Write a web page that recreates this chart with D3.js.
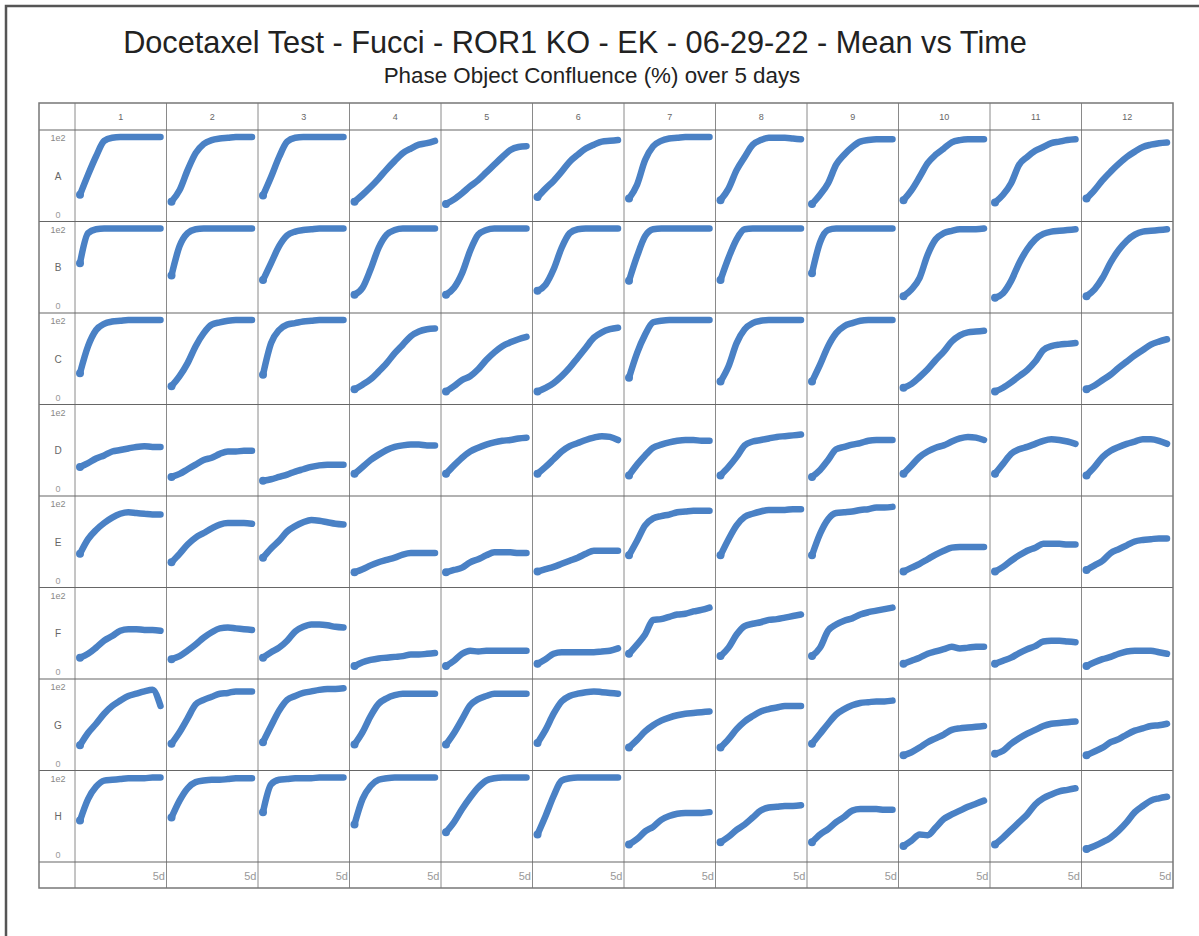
<!DOCTYPE html>
<html>
<head>
<meta charset="utf-8">
<script src="https://cdn.jsdelivr.net/npm/d3@7"></script>
<style>
  body { margin: 0; background: #fff; }
  svg { display: block; font-family: "Liberation Sans", Arial, sans-serif; }
</style>
</head>
<body>
<div id="plot"></div>
<script>
// time points (days) and plate layout
const times = [0, 0.5, 1, 1.5, 2, 2.5, 3, 3.5, 4, 4.5, 5];
const columns = ["1", "2", "3", "4", "5", "6", "7", "8", "9", "10", "11", "12"];
const rowLetters = ["A", "B", "C", "D", "E", "F", "G", "H"];

// phase object confluence (%) per well
const rowA = [
  [25, 51, 75, 95, 99, 100, 100, 100, 100, 100, 100],
  [16, 31, 57, 79, 91, 96, 98, 99, 100, 100, 100],
  [24, 48, 74, 94, 99, 100, 100, 100, 100, 100, 100],
  [16, 25, 35, 46, 58, 69, 79, 85, 90, 92, 95],
  [13, 19, 27, 36, 44, 54, 64, 74, 83, 87, 88],
  [22, 33, 43, 55, 68, 77, 85, 90, 94, 95, 96],
  [20, 38, 70, 88, 95, 98, 99, 100, 100, 100, 100],
  [18, 33, 57, 74, 90, 96, 99, 99, 99, 98, 97],
  [13, 25, 40, 64, 77, 87, 94, 96, 97, 97, 97],
  [18, 31, 48, 66, 77, 85, 93, 96, 97, 97, 97],
  [15, 25, 40, 64, 74, 82, 87, 92, 94, 96, 97],
  [20, 31, 44, 55, 65, 74, 81, 87, 90, 92, 93]
];
const rowB = [
  [55, 94, 99, 100, 100, 100, 100, 100, 100, 100, 100],
  [39, 77, 94, 99, 100, 100, 100, 100, 100, 100, 100],
  [33, 55, 77, 91, 96, 98, 99, 100, 100, 100, 100],
  [14, 23, 47, 75, 92, 98, 100, 100, 100, 100, 100],
  [14, 23, 42, 71, 92, 98, 100, 100, 100, 100, 100],
  [19, 27, 47, 75, 94, 99, 100, 100, 100, 100, 100],
  [32, 64, 90, 99, 100, 100, 100, 100, 100, 100, 100],
  [33, 62, 86, 99, 100, 100, 100, 100, 100, 100, 100],
  [42, 82, 98, 100, 100, 100, 100, 100, 100, 100, 100],
  [12, 21, 36, 66, 86, 94, 97, 99, 99, 99, 100],
  [10, 16, 32, 55, 73, 86, 93, 96, 97, 98, 99],
  [12, 21, 36, 56, 72, 84, 92, 96, 97, 98, 99]
];
const rowC = [
  [31, 66, 87, 95, 98, 99, 100, 100, 100, 100, 100],
  [14, 27, 44, 66, 83, 94, 97, 99, 100, 100, 100],
  [29, 70, 87, 94, 96, 98, 99, 100, 100, 100, 100],
  [10, 16, 23, 33, 44, 57, 68, 79, 85, 88, 89],
  [7, 14, 22, 27, 36, 48, 58, 66, 71, 75, 78],
  [7, 12, 18, 27, 38, 51, 64, 77, 84, 88, 90],
  [25, 57, 81, 97, 99, 100, 100, 100, 100, 100, 100],
  [20, 40, 70, 88, 96, 99, 100, 100, 100, 100, 100],
  [20, 42, 66, 83, 92, 96, 99, 100, 100, 100, 100],
  [12, 17, 26, 36, 48, 59, 72, 80, 84, 85, 86],
  [7, 12, 19, 27, 35, 46, 61, 66, 68, 69, 70],
  [10, 15, 22, 29, 38, 46, 54, 61, 68, 72, 75]
];
const rowD = [
  [28, 33, 39, 43, 48, 50, 52, 54, 55, 54, 54],
  [15, 19, 25, 31, 37, 40, 45, 48, 48, 49, 49],
  [10, 12, 15, 18, 22, 25, 28, 30, 31, 31, 31],
  [19, 28, 37, 44, 50, 54, 56, 57, 57, 56, 56],
  [19, 30, 40, 48, 53, 57, 60, 62, 63, 65, 66],
  [19, 28, 38, 48, 55, 59, 63, 66, 68, 67, 63],
  [17, 31, 43, 53, 57, 60, 62, 63, 63, 62, 62],
  [17, 28, 41, 56, 61, 63, 65, 67, 68, 69, 70],
  [15, 24, 37, 51, 54, 57, 59, 62, 63, 63, 63],
  [19, 30, 41, 48, 53, 56, 61, 65, 67, 66, 63],
  [19, 32, 45, 51, 54, 58, 62, 64, 63, 61, 58],
  [17, 28, 41, 49, 54, 58, 61, 64, 64, 62, 58]
];
const rowE = [
  [34, 53, 65, 74, 81, 86, 88, 87, 86, 85, 85],
  [23, 34, 46, 55, 61, 67, 72, 74, 74, 74, 73],
  [29, 41, 51, 63, 70, 75, 78, 77, 75, 73, 72],
  [10, 14, 19, 23, 26, 29, 33, 35, 35, 35, 35],
  [10, 13, 16, 23, 27, 32, 36, 36, 36, 35, 35],
  [11, 14, 17, 21, 25, 29, 34, 38, 38, 38, 38],
  [32, 51, 71, 80, 83, 85, 88, 89, 90, 90, 90],
  [32, 53, 71, 82, 86, 89, 91, 91, 91, 92, 92],
  [32, 60, 79, 87, 88, 89, 91, 92, 94, 94, 95],
  [11, 16, 21, 27, 33, 38, 42, 43, 43, 43, 43],
  [11, 17, 25, 32, 38, 42, 47, 47, 47, 46, 46],
  [13, 19, 25, 35, 40, 45, 50, 52, 53, 54, 54]
];
const rowF = [
  [18, 23, 31, 40, 46, 53, 55, 55, 54, 54, 53],
  [16, 20, 27, 35, 44, 51, 56, 57, 56, 55, 54],
  [18, 25, 31, 40, 52, 58, 61, 61, 60, 58, 57],
  [7, 12, 15, 17, 18, 19, 20, 22, 22, 23, 24],
  [7, 14, 23, 27, 26, 27, 27, 27, 27, 27, 27],
  [10, 16, 23, 25, 25, 25, 25, 25, 26, 27, 30],
  [23, 35, 48, 67, 68, 71, 74, 75, 78, 80, 83],
  [20, 31, 48, 59, 62, 64, 67, 68, 70, 72, 74],
  [20, 31, 53, 61, 66, 69, 74, 77, 79, 81, 83],
  [10, 14, 18, 23, 26, 29, 32, 30, 31, 32, 32],
  [10, 14, 18, 24, 29, 33, 39, 40, 40, 39, 38],
  [7, 12, 16, 19, 23, 26, 27, 27, 27, 25, 23]
];
const rowG = [
  [23, 39, 51, 64, 74, 81, 87, 90, 93, 95, 74],
  [25, 40, 58, 76, 82, 86, 90, 91, 93, 93, 93],
  [27, 48, 68, 82, 87, 91, 93, 95, 96, 96, 97],
  [24, 40, 61, 77, 84, 88, 90, 90, 90, 90, 90],
  [24, 39, 57, 75, 83, 87, 90, 90, 90, 90, 90],
  [26, 43, 64, 80, 87, 90, 92, 93, 92, 91, 90],
  [20, 30, 41, 49, 55, 59, 62, 64, 65, 66, 67],
  [20, 31, 44, 54, 61, 67, 70, 72, 74, 74, 74],
  [25, 38, 51, 63, 70, 75, 78, 79, 80, 80, 81],
  [10, 14, 20, 27, 32, 37, 43, 45, 46, 47, 48],
  [12, 16, 25, 32, 38, 43, 48, 51, 52, 53, 54],
  [10, 15, 20, 27, 31, 37, 42, 45, 48, 49, 51]
];
const rowH = [
  [44, 72, 88, 96, 97, 98, 99, 99, 99, 100, 100],
  [48, 70, 86, 94, 96, 97, 97, 98, 99, 99, 99],
  [55, 91, 97, 98, 99, 99, 99, 100, 100, 100, 100],
  [39, 72, 89, 97, 99, 100, 100, 100, 100, 100, 100],
  [29, 42, 59, 74, 87, 96, 99, 100, 100, 100, 100],
  [26, 50, 76, 96, 99, 100, 100, 100, 100, 100, 100],
  [13, 20, 30, 36, 45, 50, 53, 54, 54, 54, 55],
  [16, 23, 32, 39, 48, 57, 61, 62, 63, 63, 64],
  [16, 26, 33, 42, 49, 57, 59, 59, 59, 58, 58],
  [11, 18, 26, 25, 35, 46, 52, 57, 62, 66, 70],
  [13, 22, 32, 42, 52, 65, 73, 78, 82, 84, 86],
  [7, 11, 16, 22, 31, 42, 55, 63, 70, 73, 75]
];
const wells = [rowA, rowB, rowC, rowD, rowE, rowF, rowG, rowH];

const width = 1199, height = 936;
const grid = { left: 39, top: 103, labelW: 36, headerH: 27, footerH: 26, right: 1173, bottom: 888 };
const lineColor = "#4a81c5";

const svg = d3.select("#plot").append("svg")
  .attr("width", width)
  .attr("height", height);

// outer frame (right and bottom edges fall outside the picture)
svg.append("rect")
  .attr("x", 6).attr("y", 6)
  .attr("width", width + 20).attr("height", height + 20)
  .attr("fill", "none")
  .attr("stroke", "#555")
  .attr("stroke-width", 2.5);

// titles
const title = svg.append("text")
  .attr("x", 575).attr("y", 53)
  .attr("text-anchor", "middle")
  .attr("fill", "#222")
  .style("font-size", "29px")
  .text("Docetaxel Test - Fucci - ROR1 KO - EK - 06-29-22 - Mean vs Time");
let len = title.node().getComputedTextLength();
title.style("font-size", (29 * 904 / len) + "px");

const subtitle = svg.append("text")
  .attr("x", 592).attr("y", 83)
  .attr("text-anchor", "middle")
  .attr("fill", "#222")
  .style("font-size", "16px")
  .text("Phase Object Confluence (%) over 5 days");
len = subtitle.node().getComputedTextLength();
subtitle.style("font-size", (16 * 417 / len) + "px");

// plate layout scales
const colScale = d3.scaleBand().domain(columns)
  .range([grid.left + grid.labelW, grid.right]);
const rowScale = d3.scaleBand().domain(rowLetters)
  .range([grid.top + grid.headerH, grid.bottom - grid.footerH]);
const cw = colScale.bandwidth(), rh = rowScale.bandwidth();

// per-well scales
const x = d3.scaleLinear().domain([0, 5]).range([5, cw - 6]);
const y = d3.scaleLinear().domain([0, 100]).range([rh - 7.5, 7]);

// grid lines
const lines = svg.append("g");
[grid.left + grid.labelW, ...columns.slice(1).map(c => colScale(c))].forEach(xx => {
  lines.append("line")
    .attr("x1", xx).attr("x2", xx)
    .attr("y1", grid.top).attr("y2", grid.bottom)
    .attr("stroke", "#8a8a8a").attr("stroke-width", 1);
});
[grid.top + grid.headerH, ...rowLetters.slice(1).map(r => rowScale(r)), grid.bottom - grid.footerH].forEach(yy => {
  lines.append("line")
    .attr("x1", grid.left).attr("x2", grid.right)
    .attr("y1", yy).attr("y2", yy)
    .attr("stroke", "#666").attr("stroke-width", 1.2);
});
lines.append("rect")
  .attr("x", grid.left).attr("y", grid.top)
  .attr("width", grid.right - grid.left).attr("height", grid.bottom - grid.top)
  .attr("fill", "none").attr("stroke", "#777").attr("stroke-width", 1.5);

// column headers
svg.append("g").selectAll("text")
  .data(columns).join("text")
  .attr("x", d => colScale(d) + cw / 2)
  .attr("y", grid.top + 17)
  .attr("text-anchor", "middle")
  .attr("fill", "#666")
  .style("font-size", "9px")
  .text(d => d);

// row labels with y-range hints
const rowLab = svg.append("g");
rowLetters.forEach(r => {
  const cx = grid.left + grid.labelW / 2 + 1;
  rowLab.append("text")
    .attr("x", cx).attr("y", rowScale(r) + 11)
    .attr("text-anchor", "middle").attr("fill", "#888")
    .style("font-size", "9px").text("1e2");
  rowLab.append("text")
    .attr("x", cx).attr("y", rowScale(r) + rh / 2 + 4)
    .attr("text-anchor", "middle").attr("fill", "#666")
    .style("font-size", "10px").text(r);
  rowLab.append("text")
    .attr("x", cx).attr("y", rowScale(r) + rh - 4)
    .attr("text-anchor", "middle").attr("fill", "#999")
    .style("font-size", "9px").text("0");
});

// footer time labels
svg.append("g").selectAll("text")
  .data(columns).join("text")
  .attr("x", d => colScale(d) + cw - 1.5)
  .attr("y", grid.bottom - 8)
  .attr("text-anchor", "end")
  .attr("fill", "#999")
  .style("font-size", "11px")
  .text("5d");

// well curves
const line = d3.line()
  .x((d, i) => x(times[i]))
  .y(d => y(d))
  .curve(d3.curveMonotoneX);

rowLetters.forEach((r, ri) => {
  columns.forEach((c, ci) => {
    const vals = wells[ri][ci];
    const g = svg.append("g")
      .attr("transform", `translate(${colScale(c)},${rowScale(r)})`);
    g.append("path")
      .datum(vals)
      .attr("fill", "none")
      .attr("stroke", lineColor)
      .attr("stroke-width", 6.5)
      .attr("stroke-linecap", "round")
      .attr("stroke-linejoin", "round")
      .attr("d", line);
    g.append("circle")
      .attr("cx", x(times[0]))
      .attr("cy", y(vals[0]))
      .attr("r", 4)
      .attr("fill", lineColor);
  });
});
</script>
</body>
</html>
